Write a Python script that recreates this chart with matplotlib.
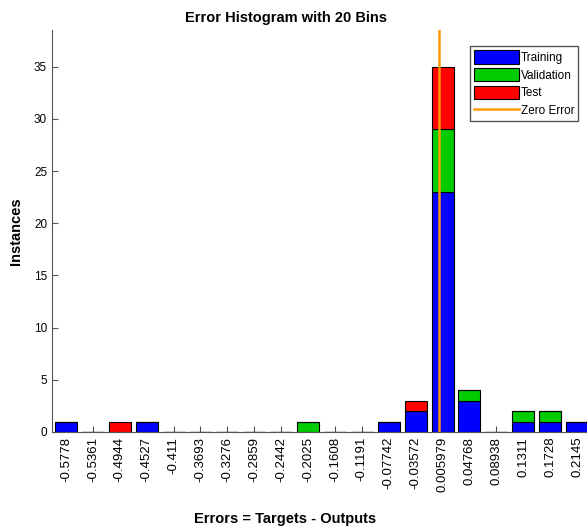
import numpy as np
import matplotlib.pyplot as plt

plt.rcParams['font.family'] = ['Liberation Sans', 'DejaVu Sans']

bin_labels = ["-0.5778", "-0.5361", "-0.4944", "-0.4527", "-0.411", "-0.3693",
              "-0.3276", "-0.2859", "-0.2442", "-0.2025", "-0.1608", "-0.1191",
              "-0.07742", "-0.03572", "0.005979", "0.04768", "0.08938", "0.1311",
              "0.1728", "0.2145"]
training = [1, 0, 0, 1, 0, 0, 0, 0, 0, 0, 0, 0, 1, 2, 23, 3, 0, 1, 1, 1]
validation = [0, 0, 0, 0, 0, 0, 0, 0, 0, 1, 0, 0, 0, 0, 6, 1, 0, 1, 1, 0]
test = [0, 0, 1, 0, 0, 0, 0, 0, 0, 0, 0, 0, 0, 1, 6, 0, 0, 0, 0, 0]

centers = np.array([float(s) for s in bin_labels])
step = np.mean(np.diff(centers))
training = np.array(training)
validation = np.array(validation)
test = np.array(test)

fig = plt.figure(figsize=(5.87, 5.3), dpi=100)
ax = fig.add_axes([0.0886, 0.185, 0.9114, 0.758])
ax.set_axisbelow(True)

w = step * 0.82
kw = dict(width=w, edgecolor="black", linewidth=0.8)
b1 = ax.bar(centers, training, color=(0, 0, 1), label="Training", **kw)
b2 = ax.bar(centers, validation, bottom=training, color=(0, 0.8, 0), label="Validation", **kw)
b3 = ax.bar(centers, test, bottom=training + validation, color=(1, 0, 0), label="Test", **kw)
zl = ax.axvline(0, color=(1, 0.6, 0), linewidth=1.8, label="Zero Error")

ax.set_xlim(centers[0] - 0.52 * step, centers[-1] + 0.37 * step)
ax.set_ylim(0, 38.5)
ax.set_xticks(centers)
ax.set_xticklabels(bin_labels, rotation=90, fontsize=9.5)
ax.set_yticks(range(0, 36, 5))
ax.tick_params(axis="y", labelsize=8.5)
ax.tick_params(direction="in", length=4, color="#555555")
for side in ["top", "right"]:
    ax.spines[side].set_visible(False)
for side in ["left", "bottom"]:
    ax.spines[side].set_color("#555555")

ax.set_title("Error Histogram with 20 Bins", fontsize=10.5, fontweight="bold", pad=6, x=0.437)
ax.set_xlabel("Errors = Targets - Outputs", fontsize=10.5, fontweight="bold", labelpad=14)
ax.xaxis.label.set_x(0.436)
ax.set_ylabel("Instances", fontsize=10.5, fontweight="bold", labelpad=8)

leg = ax.legend([b1, b2, b3, zl], ["Training", "Validation", "Test", "Zero Error"],
                loc="upper right", bbox_to_anchor=(0.995, 0.975), fontsize=8.5,
                fancybox=False, edgecolor="#555555", framealpha=1,
                handlelength=3.8, handleheight=1.35, handletextpad=0.15,
                labelspacing=0.35, borderpad=0.35)

fig.savefig("out.png", dpi=100)
